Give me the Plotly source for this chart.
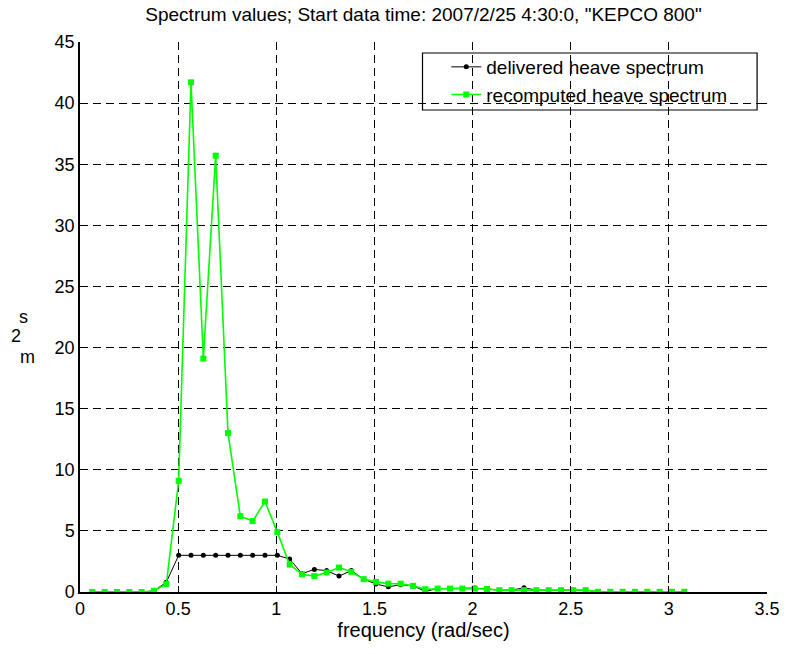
import plotly.graph_objects as go

# Frequencies (rad/sec)
freq = [0.0628, 0.1257, 0.1885, 0.2513, 0.3142, 0.3770, 0.4398, 0.5027, 0.5655, 0.6283,
        0.6912, 0.7540, 0.8168, 0.8796, 0.9425, 1.0053, 1.0681, 1.1310, 1.1938, 1.2566,
        1.3195, 1.3823, 1.4451, 1.5080, 1.5708, 1.6336, 1.6965, 1.7593, 1.8221, 1.8850,
        1.9478, 2.0106, 2.0735, 2.1363, 2.1991, 2.2619, 2.3248, 2.3876, 2.4504, 2.5133,
        2.5761, 2.6389, 2.7018, 2.7646, 2.8274, 2.8903, 2.9531, 3.0159, 3.0788]

# Delivered heave spectrum (m^2 s)
delivered = [0.0, 0.0, 0.0, 0.0, 0.0, 0.1, 0.8, 3.0, 3.0, 3.0,
             3.0, 3.0, 3.0, 3.0, 3.0, 3.0, 2.7, 1.5, 1.85, 1.75,
             1.3, 1.75, 1.05, 0.65, 0.42, 0.6, 0.5, 0.05, 0.28, 0.28,
             0.28, 0.32, 0.25, 0.15, 0.15, 0.35, 0.15, 0.15, 0.15, 0.15,
             0.15, 0.02, 0.02, 0.02, 0.02, 0.02, 0.02, 0.02, 0.02]

# Recomputed heave spectrum (m^2 s)
recomputed = [0.0, 0.0, 0.0, 0.0, 0.0, 0.1, 0.65, 9.1, 41.7, 19.1,
              35.7, 13.0, 6.2, 5.8, 7.4, 4.9, 2.25, 1.45, 1.3, 1.6,
              2.0, 1.65, 1.05, 0.83, 0.68, 0.68, 0.5, 0.23, 0.28, 0.28,
              0.28, 0.28, 0.25, 0.15, 0.15, 0.15, 0.15, 0.15, 0.15, 0.15,
              0.15, 0.02, 0.02, 0.02, 0.02, 0.02, 0.02, 0.02, 0.02]

x_ticks = [0, 0.5, 1, 1.5, 2, 2.5, 3, 3.5]
x_tick_text = ["0", "0.5", "1", "1.5", "2", "2.5", "3", "3.5"]
y_ticks = [0, 5, 10, 15, 20, 25, 30, 35, 40, 45]

FONT = "Liberation Sans, Arial, Helvetica, sans-serif"

fig = go.Figure()
fig.add_trace(go.Scatter(
    x=freq, y=delivered, mode="lines+markers", name="delivered heave spectrum",
    line=dict(color="black", width=1),
    marker=dict(color="black", size=5, symbol="circle"),
))
fig.add_trace(go.Scatter(
    x=freq, y=recomputed, mode="lines+markers", name="recomputed heave spectrum",
    line=dict(color="#00ff00", width=1.6),
    marker=dict(color="#00ff00", size=6, symbol="square"),
))
# Transparent copy on the top/right axes so their tick marks are drawn
fig.add_trace(go.Scatter(
    x=freq, y=delivered, mode="lines", xaxis="x2", yaxis="y2",
    opacity=0, showlegend=False, hoverinfo="skip",
))

L, R, T, B = 80, 18, 42, 62
W, H = 792, 654
pw, ph = W - L - R, H - T - B

def px(xp):
    return (xp - L) / pw

def py(yp):
    return (H - B - yp) / ph

grid = dict(showgrid=True, gridcolor="black", gridwidth=1, griddash="8px,5px")

fig.update_layout(
    width=W, height=H,
    margin=dict(l=L, r=R, t=T, b=B),
    paper_bgcolor="white", plot_bgcolor="white",
    font=dict(family=FONT, size=18, color="black"),
    title=dict(
        text='Spectrum values; Start data time: 2007/2/25 4:30:0, "KEPCO 800"',
        x=0.5, xref="paper", xanchor="center",
        y=1 - 14 / H, yanchor="middle",
        font=dict(size=19),
    ),
    xaxis=dict(
        range=[0, 3.5], tickvals=x_ticks, ticktext=x_tick_text,
        ticks="inside", ticklen=6, tickcolor="black",
        showline=True, linecolor="black", linewidth=1.5,
        zeroline=False, **grid,
        title=dict(text="frequency (rad/sec)", font=dict(size=20), standoff=4),
        tickfont=dict(size=18),
    ),
    yaxis=dict(
        range=[0, 45], tickvals=y_ticks,
        ticks="inside", ticklen=6, tickcolor="black",
        showline=True, linecolor="black", linewidth=1.5,
        zeroline=False, **grid,
        tickfont=dict(size=18),
    ),
    xaxis2=dict(
        range=[0, 3.5], tickvals=x_ticks, showticklabels=False,
        overlaying="x", side="top", anchor="y2",
        ticks="inside", ticklen=6, tickcolor="black",
        showline=False, showgrid=False, zeroline=False,
    ),
    yaxis2=dict(
        range=[0, 45], tickvals=y_ticks, showticklabels=False,
        overlaying="y", side="right", anchor="x2",
        ticks="inside", ticklen=6, tickcolor="black",
        showline=False, showgrid=False, zeroline=False,
    ),
    showlegend=True,
    legend=dict(
        x=px(450), y=py(48), xanchor="left", yanchor="top",
        bgcolor="rgba(0,0,0,0)", borderwidth=0,
        font=dict(size=19), tracegroupgap=0, itemwidth=30,
    ),
)

# Legend frame
fig.add_shape(type="rect", xref="paper", yref="paper",
              x0=px(426), x1=px(764), y0=py(110), y1=py(53),
              line=dict(color="black", width=1.2), fillcolor="white", layer="below")

# Stacked y-axis label (m^2 s)
for txt, xp, yp in [("s", 23, 317), ("2", 15, 336), ("m", 27, 357)]:
    fig.add_annotation(text=txt, xref="paper", yref="paper",
                       x=px(xp), y=py(yp), xanchor="center", yanchor="middle",
                       showarrow=False, font=dict(size=18, family=FONT))

fig.write_html("out.html")
